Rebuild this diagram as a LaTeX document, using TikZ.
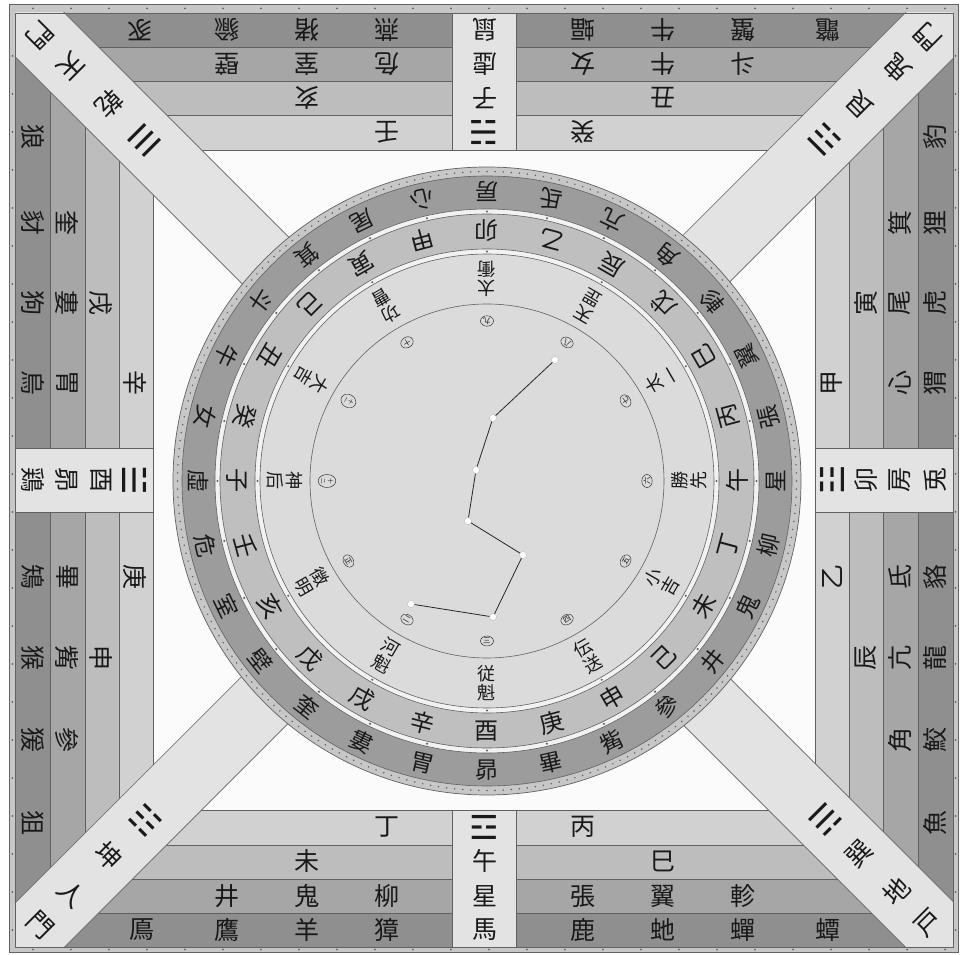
\documentclass[tikz,border=0pt]{standalone}
\usepackage{fontspec}
\usetikzlibrary{shapes.geometric}
\newfontfamily\cjk{Noto Sans CJK JP}
\newfontfamily\symf{DejaVu Sans}
\newcommand\numstack[2]{{\fontsize{5.5}{5}\selectfont\shortstack{#1\\#2}}}
\definecolor{bandA}{gray}{0.56}
\definecolor{bandB}{gray}{0.65}
\definecolor{bandC}{gray}{0.74}
\definecolor{bandD}{gray}{0.82}
\definecolor{stripc}{gray}{0.89}
\definecolor{framec}{gray}{0.78}
\definecolor{edgec}{gray}{0.38}
\definecolor{ringM}{gray}{0.61}
\definecolor{ringS}{gray}{0.75}
\definecolor{ringO}{gray}{0.78}
\definecolor{diskc}{gray}{0.86}
\definecolor{gapc}{gray}{0.95}
\definecolor{inkc}{gray}{0.10}
\definecolor{innerc}{gray}{0.985}
\tikzset{
  bandch/.style={font=\cjk\fontsize{25}{25}\selectfont, text=inkc, inner sep=0pt},
  diagch/.style={font=\cjk\fontsize{26}{26}\selectfont, text=inkc, inner sep=0pt},
  trig/.style={font=\symf\fontsize{33}{33}\selectfont, text=inkc, inner sep=0pt},
  mansion/.style={font=\cjk\fontsize{23}{23}\selectfont, text=inkc, inner sep=0pt},
  branch/.style={font=\cjk\fontsize{24}{24}\selectfont, text=inkc, inner sep=0pt},
  general/.style={font=\cjk\fontsize{18}{19}\selectfont, text=inkc, inner sep=0pt, align=center},
  monthno/.style={ellipse, draw=inkc, line width=0.4pt, inner sep=0.3pt, minimum width=13pt, minimum height=10pt, font=\cjk\fontsize{7.5}{7.5}\selectfont, text=inkc},
  sepline/.style={draw=edgec, line width=0.6pt},
  stardot/.style={circle, fill=white, draw=gray!60, line width=0.3pt, inner sep=0pt, minimum size=7pt},
  starline/.style={draw=gray!30!black, line width=0.8pt},
}
\begin{document}
\begin{tikzpicture}[x=1pt,y=1pt]
\useasboundingbox (-485,-475) rectangle (477,480);
% outer frame with dots
\path[fill=framec, sepline] (-476,-472) rectangle (473,476);
\foreach \x in {-452,-414,...,460} {\fill[edgec] (\x,471.5) circle (1); \fill[edgec] (\x,-469.5) circle (1);}
\foreach \y in {-450,-412,...,460} {\fill[edgec] (-472.5,\y) circle (1); \fill[edgec] (470.5,\y) circle (1);}
% nested bands
\path[fill=bandA, sepline] (-470,-467) rectangle (468,467);
\path[fill=bandB, sepline] (-435,-433) rectangle (433,433);
\path[fill=bandC, sepline] (-400,-399) rectangle (398,399);
\path[fill=bandD, sepline] (-366,-365) rectangle (364,365);
\path[fill=innerc, sepline] (-332,-330) rectangle (330,330);
% cardinal strips
\path[fill=stripc, sepline] (-33,330) rectangle (31,467);
\path[fill=stripc, sepline] (-33,-467) rectangle (31,-330);
\path[fill=stripc, sepline] (-470,-32) rectangle (-332,32);
\path[fill=stripc, sepline] (330,-32) rectangle (468,32);
% diagonal strips
\begin{scope}
  \clip (-470,-467) rectangle (468,467);
  \foreach \ang in {45,135,225,315} {
    \path[fill=stripc, sepline] (\ang+90:33) -- ++(\ang:800) -- ++(\ang-90:66) -- ++(\ang+180:800) -- cycle;
  }
\end{scope}
\path[sepline] (-470,-467) rectangle (468,467);
% band texts: top (upside down)
\foreach \x/\y/\t [count=\i] in {-345/450/豕, -258/450/貐, -178/450/猪, -98/450/燕, 0/450/鼠, 98/450/蝠, 178/450/牛, 258/450/蟹, 343/450/鼈, -258/416/壁, -178/416/室, -98/416/危, 0/416/虛, 98/416/女, 178/416/牛, 258/416/斗, -178/382/亥, 0/382/子, 178/382/丑, -98/348/壬, 98/348/癸}
  \node[bandch, rotate=180] (tp\i) at (\x,\y) {\t};
% bottom
\foreach \x/\y/\t [count=\i] in {-98/-347/丁, 98/-347/丙, -178/-381/未, 0/-381/午, 178/-381/巳, -258/-416/井, -178/-416/鬼, -98/-416/柳, 0/-416/星, 98/-416/張, 178/-416/翼, 258/-416/軫, -343/-450/鳫, -258/-450/鷹, -178/-450/羊, -98/-450/獐, 0/-450/馬, 98/-450/鹿, 178/-450/虵, 258/-450/蟬, 343/-450/蟫}
  \node[bandch] (bt\i) at (\x,\y) {\t};
% left
\foreach \x/\y/\t [count=\i] in {-452/343/狼, -452/257/豺, -452/177/狗, -452/97/烏, -452/0/鶏, -452/-97/鴙, -452/-178/猴, -452/-260/猨, -452/-343/狙, -418/257/奎, -418/177/婁, -418/97/胃, -418/0/昴, -418/-97/畢, -418/-178/觜, -418/-260/參, -384/177/戌, -384/0/酉, -384/-178/申, -350/97/辛, -350/-97/庚}
  \node[bandch, rotate=-90] (lf\i) at (\x,\y) {\t};
% right
\foreach \x/\y/\t [count=\i] in {450/343/豹, 450/257/狸, 450/177/虎, 450/97/猬, 450/0/兎, 450/-97/貉, 450/-178/龍, 450/-260/鮫, 450/-343/魚, 415/257/箕, 415/177/尾, 415/97/心, 415/0/房, 415/-97/氐, 415/-178/亢, 415/-260/角, 381/177/寅, 381/0/卯, 381/-178/辰, 347/97/甲, 347/-97/乙}
  \node[bandch, rotate=90] (rt\i) at (\x,\y) {\t};
% cardinal trigrams
\node[trig, rotate=180] (kan) at (-1,347) {☵};
\node[trig] (li) at (-1,-347) {☲};
\node[trig, rotate=-90] (dui) at (-350,0) {☱};
\node[trig, rotate=90] (zhen) at (347,0) {☳};
% diagonal texts
\node[trig, rotate=225] (qian) at (-340,340) {☰};
\node[diagch, rotate=225] (qn) at (-376,376) {乾};
\node[diagch, rotate=225] (tm1) at (-414,414) {天};
\node[diagch, rotate=225] (tm2) at (-445,445) {門};
\node[trig, rotate=135] (gen) at (340,340) {☶};
\node[diagch, rotate=135] (gn) at (375,375) {艮};
\node[diagch, rotate=135] (gm1) at (412,412) {鬼};
\node[diagch, rotate=135] (gm2) at (443,443) {門};
\node[trig, rotate=-45] (kun) at (-340,-340) {☷};
\node[diagch, rotate=-45] (kn) at (-376,-376) {坤};
\node[diagch, rotate=-45] (rm1) at (-414,-414) {人};
\node[diagch, rotate=-45] (rm2) at (-445,-445) {門};
\node[trig, rotate=45] (xun) at (340,-340) {☴};
\node[diagch, rotate=45] (xn) at (374,-374) {巽};
\node[diagch, rotate=45] (dh1) at (411,-411) {地};
\node[diagch, rotate=45] (dh2) at (443,-443) {戸};
% the heaven plate
\begin{scope}[shift={(2,-1)}]
  \path[fill=ringO, draw=edgec, line width=0.7pt] (0,0) circle (314);
  \foreach \i in {0,...,239} \fill[edgec] (\i*1.5:309.5) circle (0.85);
  \path[fill=ringM, sepline] (0,0) circle (305);
  \path[fill=gapc, sepline] (0,0) circle (272);
  \path[fill=ringS, sepline] (0,0) circle (267);
  \path[fill=gapc, sepline] (0,0) circle (232);
  \path[fill=diskc, sepline] (0,0) circle (227);
  \draw[edgec, line width=0.6pt] (0,0) circle (177);
  \foreach \k in {0,...,27} \fill[edgec] (90-\k*360/28:269.5) circle (1.2);
  \foreach \k in {0,...,11} \fill[edgec] (90-\k*30:229.5) circle (1.2);
  \foreach \t [count=\k from 0] in {房,氐,亢,角,軫,翼,張,星,柳,鬼,井,參,觜,畢,昴,胃,婁,奎,壁,室,危,虛,女,牛,斗,箕,尾,心} {
    \pgfmathsetmacro\a{90-\k*360/28}
    \node[mansion, rotate=\a+90] (ms\k) at (\a:289) {\t};
  }
  \foreach \t [count=\k from 0] in {卯,乙,辰,戊,巳,丙,午,丁,未,己,申,庚,酉,辛,戌,戊,亥,壬,子,癸,丑,己,寅,甲} {
    \pgfmathsetmacro\a{90-\k*15}
    \node[branch, rotate=\a+90] (br\k) at (\a:250) {\t};
  }
  \foreach \p/\q/\n [count=\k from 0] in {太/衝/九, 天/罡/八, 太/一/七, 勝/先/六, 小/吉/五, 伝/送/四, 従/魁/三, 河/魁/二, 徴/明/正, 神/后/{\numstack{十}{二}}, 大/吉/{\numstack{十}{一}}, 功/曹/十} {
    \pgfmathsetmacro\a{90-\k*30}
    \node[general, rotate=\a+90] (gl\k) at (\a:202) {\p\\\q};
    \node[monthno, rotate=\a+90] (nm\k) at (\a:160) {\n};
  }
\end{scope}
% the dipper
\node[stardot] (s1) at (70,120) {};
\node[stardot] (s2) at (8,62) {};
\node[stardot] (s3) at (-9,10) {};
\node[stardot] (s4) at (-17,-41) {};
\node[stardot] (s5) at (38,-75) {};
\node[stardot] (s6) at (8,-137) {};
\node[stardot] (s7) at (-74,-124) {};
\draw[starline] (s7) -- (s6) -- (s5) -- (s4) -- (s3) -- (s2) -- (s1);
\end{tikzpicture}
\end{document}
